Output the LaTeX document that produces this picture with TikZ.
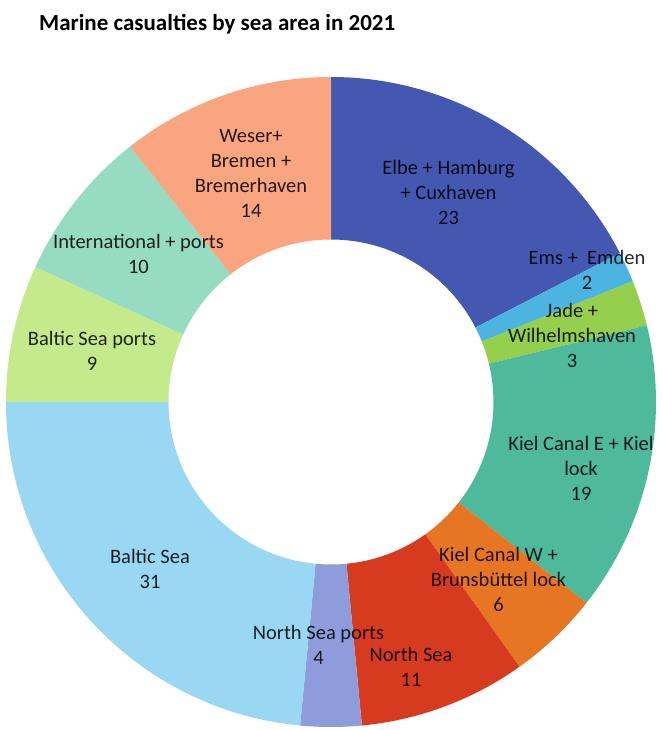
\documentclass[tikz,border=0pt]{standalone}
\usepackage{fontspec}
\setmainfont{Carlito}
\definecolor{cElbe}{HTML}{4458B2}
\definecolor{cEms}{HTML}{4BB4E0}
\definecolor{cJade}{HTML}{94CF4E}
\definecolor{cKielE}{HTML}{4FB99B}
\definecolor{cKielW}{HTML}{E67624}
\definecolor{cNorth}{HTML}{D63B1F}
\definecolor{cNPorts}{HTML}{8E9CDB}
\definecolor{cBaltic}{HTML}{99D7F3}
\definecolor{cBPorts}{HTML}{C5EA8C}
\definecolor{cIntl}{HTML}{96DCC3}
\definecolor{cWeser}{HTML}{F9A57F}
\tikzset{
  lbl/.style={align=center, text=black, text opacity=0.85, inner sep=0pt,
    font=\fontsize{20.5}{25}\selectfont},
  ttl/.style={anchor=west, inner sep=0pt, font=\fontsize{23}{28}\selectfont\bfseries}
}
\newcommand{\seg}[3]{%
  \fill[#3] ({90-(#1)*30/11}:325) arc[start angle={90-(#1)*30/11}, end angle={90-(#2)*30/11}, radius=325]
    -- ({90-(#2)*30/11}:162.5) arc[start angle={90-(#2)*30/11}, end angle={90-(#1)*30/11}, radius=162.5] -- cycle;}
\begin{document}
\begin{tikzpicture}[x=1pt,y=1pt]
\useasboundingbox (-331,-328) rectangle (332,402);
\fill[white] (-331,-328) rectangle (332,402);
\seg{0}{23}{cElbe}
\seg{23}{25}{cEms}
\seg{25}{28}{cJade}
\seg{28}{47}{cKielE}
\seg{47}{53}{cKielW}
\seg{53}{64}{cNorth}
\seg{64}{68}{cNPorts}
\seg{68}{99}{cBaltic}
\seg{99}{108}{cBPorts}
\seg{108}{118}{cIntl}
\seg{118}{132}{cWeser}
% title (pixel x=39, y=22)
\node[ttl] (title) at (-292,378) {Marine casualties by sea area in 2021};
% labels: (px-331, 402-py), centre y of block
\node[lbl] (weser) at (-80,229) {Weser+\\Bremen +\\Bremerhaven\\14};
\node[lbl] (elbe) at (117.5,210) {Elbe + Hamburg\\+ Cuxhaven\\23};
\node[lbl] (ems) at (256,132) {Ems +\ \ Emden\\2};
\node[lbl] (jade) at (241,67) {Jade +\\Wilhelmshaven\\3};
\node[lbl] (kiele) at (250,-66) {Kiel Canal E + Kiel\\lock\\19};
\node[lbl] (kielw) at (167.5,-177) {Kiel Canal W +\\Brunsbüttel lock\\6};
\node[lbl] (north) at (80,-264.5) {North Sea\\11};
\node[lbl] (nports) at (-12.5,-243) {North Sea ports\\4};
\node[lbl] (baltic) at (-181,-166.5) {Baltic Sea\\31};
\node[lbl] (bports) at (-239,51) {Baltic Sea ports\\9};
\node[lbl] (intl) at (-192.5,148.5) {International + ports\\10};
\end{tikzpicture}
\end{document}
